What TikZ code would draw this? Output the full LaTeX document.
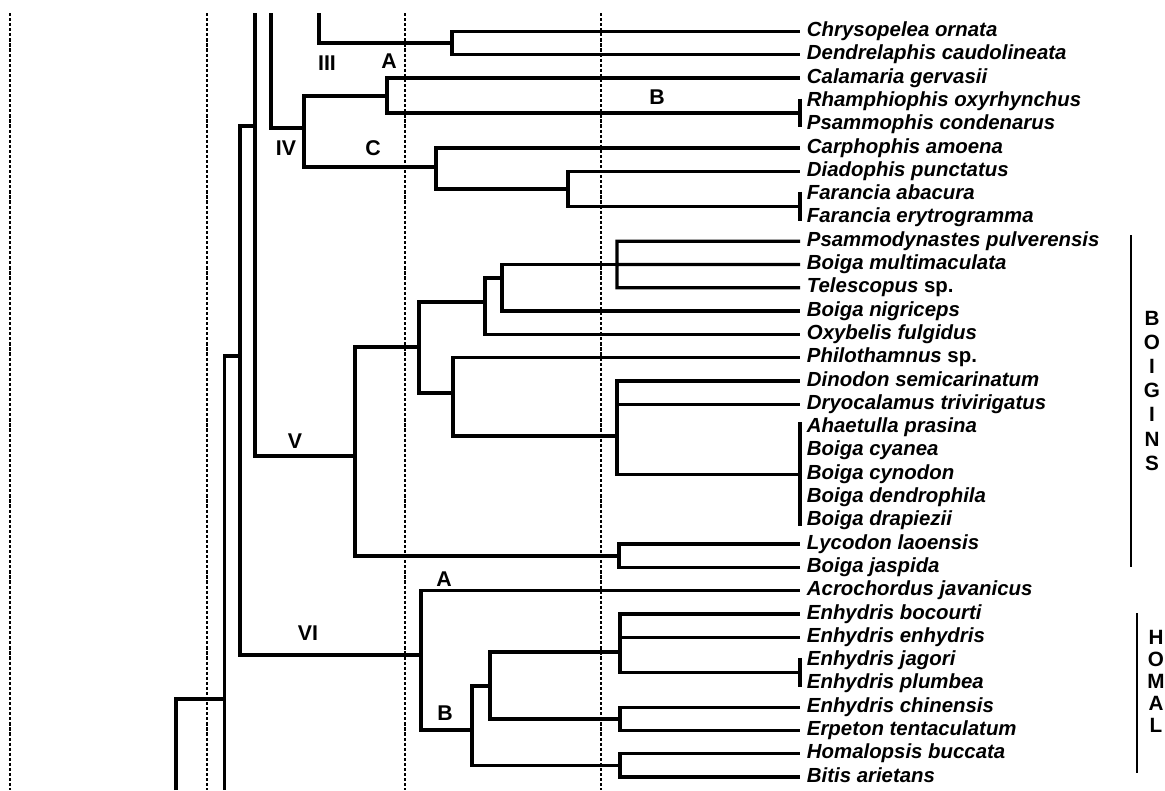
\documentclass[tikz,border=0pt]{standalone}
\usepackage{fontspec}
\setmainfont{Liberation Sans}
\usepackage{tikz}
\usetikzlibrary{calc}
\tikzset{
  treeline/.style={line width=2.5pt,line cap=butt,line join=miter},
  guide/.style={line width=.85pt,dash pattern=on 2.4pt off 1.4pt},
  taxon/.style={anchor=west,inner xsep=5pt,inner ysep=0pt,text height=10.5pt,text depth=3pt,font=\fontsize{15.3}{18}\selectfont\bfseries\itshape},
  clade/.style={inner sep=0pt,font=\fontsize{16}{18}\selectfont\bfseries},
  grpbar/.style={line width=1.5pt},
  grpletter/.style={inner sep=0pt,font=\fontsize{15.5}{18}\selectfont\bfseries},
}
\begin{document}
\begin{tikzpicture}[x=.75pt,y=-.75pt]
\useasboundingbox (0,0) rectangle (1165,790);

% time guides
\foreach \gx in {10,207,405,601}
  \draw[guide] (\gx,13) -- (\gx,790);

% terminal taxa
\foreach \taxname [count=\i] in {Chrysopelea ornata,Dendrelaphis caudolineata,Calamaria gervasii,
    Rhamphiophis oxyrhynchus,Psammophis condenarus,Carphophis amoena,Diadophis punctatus,
    Farancia abacura,Farancia erytrogramma,Psammodynastes pulverensis,Boiga multimaculata,
    Telescopus \textup{sp.},Boiga nigriceps,Oxybelis fulgidus,Philothamnus \textup{sp.},
    Dinodon semicarinatum,Dryocalamus trivirigatus,Ahaetulla prasina,Boiga cyanea,
    Boiga cynodon,Boiga dendrophila,Boiga drapiezii,Lycodon laoensis,Boiga jaspida,
    Acrochordus javanicus,Enhydris bocourti,Enhydris enhydris,Enhydris jagori,
    Enhydris plumbea,Enhydris chinensis,Erpeton tentaculatum,Homalopsis buccata,Bitis arietans}
  \node[taxon] (t\i) at (800,{31.5+23.3*(\i-1)}) {\taxname};

% unresolved tips
\coordinate (pB) at ($(t4.west)!.5!(t5.west)$);
\coordinate (pF) at ($(t8.west)!.5!(t9.west)$);
\coordinate (pG) at (t20.west);
\coordinate (pJ) at ($(t28.west)!.5!(t29.west)$);
\draw[treeline,shorten <=-2pt,shorten >=-2pt] (t4.west) -- (t5.west);
\draw[treeline,shorten <=-2pt,shorten >=-2pt] (t8.west) -- (t9.west);
\draw[treeline,shorten <=-4pt,shorten >=-4pt] (t18.west) -- (t22.west);
\draw[treeline,shorten <=-2pt,shorten >=-2pt] (t28.west) -- (t29.west);

% internal nodes
\coordinate (c319) at (319,13);
\coordinate (c271) at (271,13);
\coordinate (c255) at (255,13);
\coordinate (c224) at (224.5,790);
\coordinate (c176) at (176,790);
\coordinate (nIII) at (452,43);
\coordinate (nA) at (387,96);
\coordinate (nDF) at (568,189);
\coordinate (nC) at (436,167);
\coordinate (nIV) at (304,128);
\coordinate (n255) at (255,126);
\coordinate (n240) at (240,356);
\coordinate (n224) at (224.5,699);
\coordinate (nV) at (355,456);
\coordinate (nX1) at (419,347);
\coordinate (nX2) at (485,302);
\coordinate (nX3) at (502,278);
\coordinate (nX4) at (617,264.5);
\coordinate (nX5) at (453,393);
\coordinate (nX6) at (617,436);
\coordinate (nX7) at (619,556);
\coordinate (nVI) at (421,655);
\coordinate (nY1) at (472,730);
\coordinate (nY2) at (490,686);
\coordinate (nY3) at (620,652);
\coordinate (nY4) at (620,719);
\coordinate (nY5) at (620,765.5);

% branches
\draw[treeline] (c319) |- (nIII);
\draw[treeline] (nIII) |- (t1.west) (nIII) |- (t2.west);
\draw[treeline] (c271) |- (nIV);
\draw[treeline] (nIV) |- (nA) (nIV) |- (nC);
\draw[treeline] (nA) |- (t3.west) (nA) |- (pB);
\draw[treeline] (nC) |- (t6.west) (nC) |- (nDF);
\draw[treeline] (nDF) |- (t7.west) (nDF) |- (pF);
\draw[treeline] (c255) |- (nV);
\draw[treeline] (n240) |- (n255) (n240) |- (nVI);
\draw[treeline] (n224) |- (n240) (n224) -- (c224);
\draw[treeline] (c176) |- (n224);
\draw[treeline] (nV) |- (nX1) (nV) |- (nX7);
\draw[treeline] (nX1) |- (nX2) (nX1) |- (nX5);
\draw[treeline] (nX2) |- (nX3) (nX2) |- (t14.west);
\draw[treeline] (nX3) |- (nX4) (nX3) |- (t13.west);
\draw[treeline] (nX4) |- (t10.west) (nX4) -- (t11.west) (nX4) |- (t12.west);
\draw[treeline] (nX5) |- (t15.west) (nX5) |- (nX6);
\draw[treeline] (nX6) |- (t16.west) (nX6) |- (t17.west) (nX6) |- (pG);
\draw[treeline] (nX7) |- (t23.west) (nX7) |- (t24.west);
\draw[treeline] (nVI) |- (t25.west) (nVI) |- (nY1);
\draw[treeline] (nY1) |- (nY2) (nY1) |- (nY5);
\draw[treeline] (nY2) |- (nY3) (nY2) |- (nY4);
\draw[treeline] (nY3) |- (t26.west) (nY3) |- (t27.west) (nY3) |- (pJ);
\draw[treeline] (nY4) |- (t30.west) (nY4) |- (t31.west);
\draw[treeline] (nY5) |- (t32.west) (nY5) |- (t33.west);

% clade labels
\node[clade] (lIII) at (327,63) {III};
\node[clade] (lA1) at (389,61) {A};
\node[clade] (lIV) at (286,148) {IV};
\node[clade] (lC) at (373,148) {C};
\node[clade] (lB1) at (657,97) {B};
\node[clade] (lV) at (295,441) {V};
\node[clade] (lA2) at (444,579) {A};
\node[clade] (lVI) at (308,633) {VI};
\node[clade] (lB2) at (445,713) {B};

% group bars
\coordinate (boiTop) at (1131,235);
\coordinate (boiBot) at (1131,567);
\draw[grpbar] (boiTop) -- (boiBot);
\foreach \ltr [count=\k] in {B,O,I,G,I,N,S}
  \node[grpletter] (boi\k) at (1152,{318+24.2*(\k-1)}) {\ltr};
\coordinate (homTop) at (1137,613);
\coordinate (homBot) at (1137,773);
\draw[grpbar] (homTop) -- (homBot);
\foreach \ltr [count=\k] in {H,O,M,A,L}
  \node[grpletter] (hom\k) at (1156,{637+22*(\k-1)}) {\ltr};
\end{tikzpicture}
\end{document}
